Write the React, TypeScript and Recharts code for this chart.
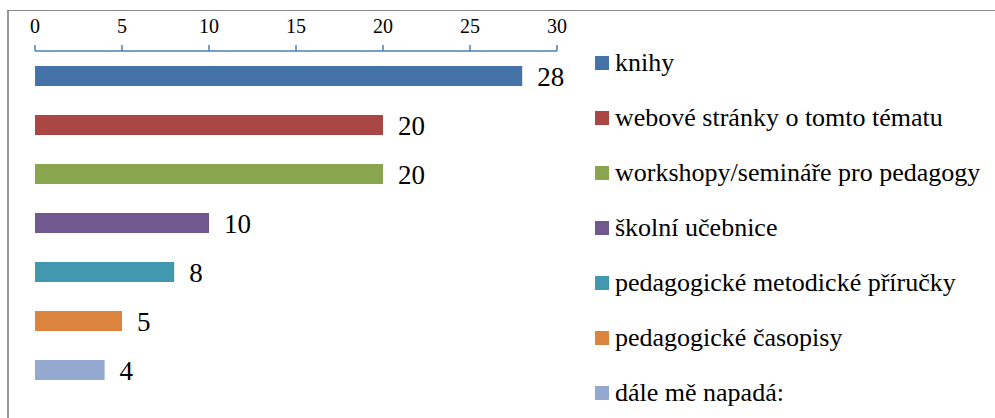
import React from "react";
import { BarChart, Bar, XAxis, YAxis, Cell, LabelList, Legend } from "recharts";

const categories = [
  "knihy",
  "webové stránky o tomto tématu",
  "workshopy/semináře pro pedagogy",
  "školní učebnice",
  "pedagogické metodické příručky",
  "pedagogické časopisy",
  "dále mě napadá:",
];
const values = [28, 20, 20, 10, 8, 5, 4];
const colors = ["#4572A7", "#AA4643", "#89A54E", "#71588F", "#4198AF", "#DB843D", "#93A9CF"];
const xTicks = [0, 5, 10, 15, 20, 25, 30];

const data = categories.map((name, i) => ({ name, value: values[i] }));

const FONT = "Liberation Serif, Tinos, Times New Roman, Times, serif";

const LegendContent = () => (
  <div style={{ fontFamily: FONT, fontSize: 26, color: "#000" }}>
    {categories.map((c, i) => (
      <div key={c} style={{ height: 55, display: "flex", alignItems: "center", whiteSpace: "nowrap" }}>
        <span style={{ display: "inline-block", width: 14, height: 14, background: colors[i], marginRight: 6, flex: "none" }} />
        <span style={{ fontFamily: FONT }}>{c}</span>
      </div>
    ))}
  </div>
);

export default function App() {
  return (
    <>
      <style>{`html,body{margin:0;padding:0;overflow:hidden;background:#fff;}`}</style>
      <div style={{ position: "relative", width: 995, height: 418, overflow: "hidden", background: "#fff", fontFamily: FONT }}>
        <div style={{ position: "absolute", left: 0, top: 0 }}>
          <BarChart
            width={995}
            height={418}
            data={data}
            layout="vertical"
            margin={{ top: 21, right: 438, bottom: 24, left: 35 }}
            style={{ fontFamily: FONT }}
          >
            <XAxis
              type="number"
              orientation="top"
              domain={[0, 30]}
              ticks={xTicks}
              height={30}
              axisLine={{ stroke: "#4A7EBB", strokeWidth: 1.5 }}
              tickLine={{ stroke: "#4A7EBB", strokeWidth: 1.5 }}
              tickSize={6}
              tickMargin={12}
              tick={{ fill: "#000", fontSize: 20, fontFamily: FONT }}
              interval={0}
            />
            <YAxis
              type="category"
              dataKey="name"
              width={0}
              tick={false}
              tickLine={false}
              axisLine={{ stroke: "#868686", strokeWidth: 2 }}
            />
            <Legend
              layout="vertical"
              align="center"
              verticalAlign="middle"
              content={<LegendContent />}
              wrapperStyle={{ position: "absolute", left: 595, top: 35, width: 400, height: 390 }}
            />
            <Bar dataKey="value" barSize={20} isAnimationActive={false}>
              {data.map((d, i) => (
                <Cell key={d.name} fill={colors[i]} />
              ))}
              <LabelList
                dataKey="value"
                position="right"
                offset={15}
                fill="#000"
                fontSize={27}
                fontFamily={FONT}
                style={{ fill: "#000", fontSize: 27, fontFamily: FONT }}
              />
            </Bar>
          </BarChart>
        </div>
        <div style={{ position: "absolute", left: 7, top: 10, width: 2, height: 420, background: "#999999", zIndex: 5 }} />
        <div style={{ position: "absolute", left: 7, top: 10, width: 1000, height: 1, background: "#888888", zIndex: 5 }} />
      </div>
    </>
  );
}
